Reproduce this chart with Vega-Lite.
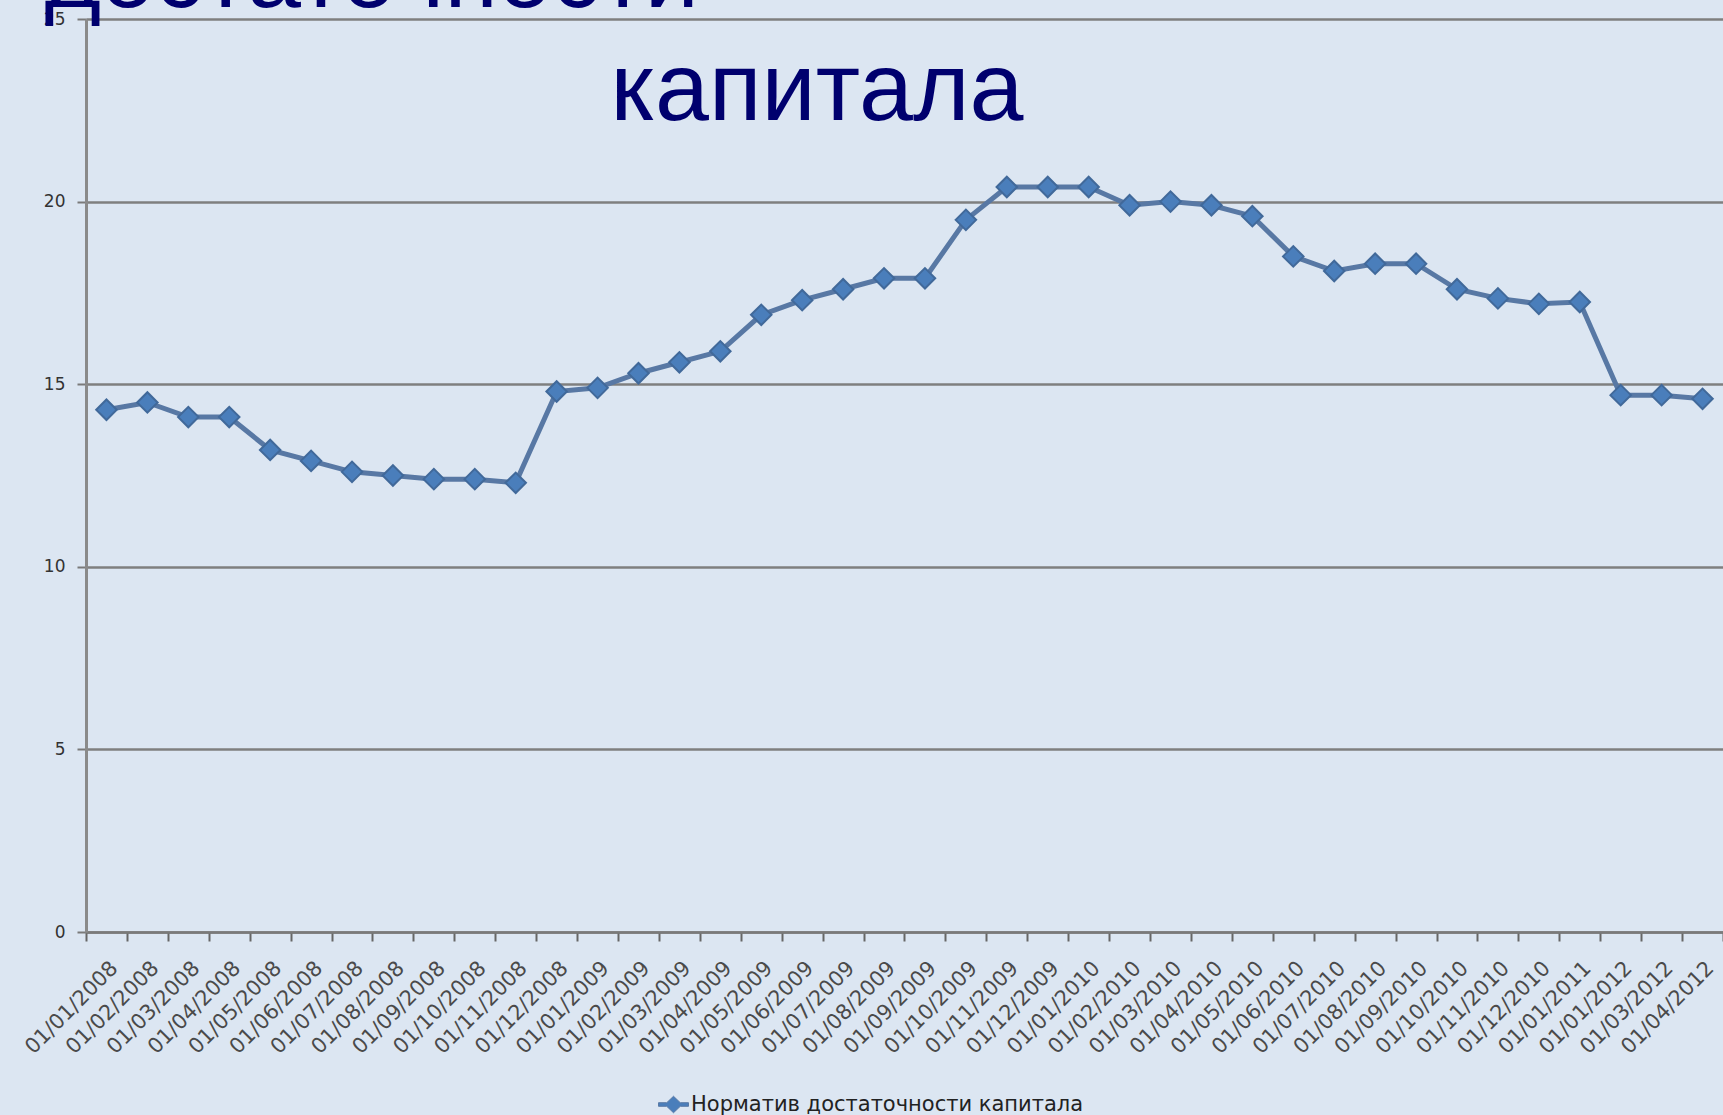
{
  "$schema": "https://vega.github.io/schema/vega-lite/v6.json",
  "autosize": "none",
  "width": 1637,
  "height": 913,
  "padding": {"left": 86, "top": 19, "right": 0, "bottom": 183},
  "background": "#dce6f2",
  "config": {
    "view": {"stroke": null},
    "axis": {"labelFont": "DejaVu Sans", "labelColor": "#4a4a4a"}
  },
  "data": {
    "values": [
      {"date": "01/01/2008", "value": 14.3, "series": "Норматив достаточности капитала"},
      {"date": "01/02/2008", "value": 14.5, "series": "Норматив достаточности капитала"},
      {"date": "01/03/2008", "value": 14.1, "series": "Норматив достаточности капитала"},
      {"date": "01/04/2008", "value": 14.1, "series": "Норматив достаточности капитала"},
      {"date": "01/05/2008", "value": 13.2, "series": "Норматив достаточности капитала"},
      {"date": "01/06/2008", "value": 12.9, "series": "Норматив достаточности капитала"},
      {"date": "01/07/2008", "value": 12.6, "series": "Норматив достаточности капитала"},
      {"date": "01/08/2008", "value": 12.5, "series": "Норматив достаточности капитала"},
      {"date": "01/09/2008", "value": 12.4, "series": "Норматив достаточности капитала"},
      {"date": "01/10/2008", "value": 12.4, "series": "Норматив достаточности капитала"},
      {"date": "01/11/2008", "value": 12.3, "series": "Норматив достаточности капитала"},
      {"date": "01/12/2008", "value": 14.8, "series": "Норматив достаточности капитала"},
      {"date": "01/01/2009", "value": 14.9, "series": "Норматив достаточности капитала"},
      {"date": "01/02/2009", "value": 15.3, "series": "Норматив достаточности капитала"},
      {"date": "01/03/2009", "value": 15.6, "series": "Норматив достаточности капитала"},
      {"date": "01/04/2009", "value": 15.9, "series": "Норматив достаточности капитала"},
      {"date": "01/05/2009", "value": 16.9, "series": "Норматив достаточности капитала"},
      {"date": "01/06/2009", "value": 17.3, "series": "Норматив достаточности капитала"},
      {"date": "01/07/2009", "value": 17.6, "series": "Норматив достаточности капитала"},
      {"date": "01/08/2009", "value": 17.9, "series": "Норматив достаточности капитала"},
      {"date": "01/09/2009", "value": 17.9, "series": "Норматив достаточности капитала"},
      {"date": "01/10/2009", "value": 19.5, "series": "Норматив достаточности капитала"},
      {"date": "01/11/2009", "value": 20.4, "series": "Норматив достаточности капитала"},
      {"date": "01/12/2009", "value": 20.4, "series": "Норматив достаточности капитала"},
      {"date": "01/01/2010", "value": 20.4, "series": "Норматив достаточности капитала"},
      {"date": "01/02/2010", "value": 19.9, "series": "Норматив достаточности капитала"},
      {"date": "01/03/2010", "value": 20.0, "series": "Норматив достаточности капитала"},
      {"date": "01/04/2010", "value": 19.9, "series": "Норматив достаточности капитала"},
      {"date": "01/05/2010", "value": 19.6, "series": "Норматив достаточности капитала"},
      {"date": "01/06/2010", "value": 18.5, "series": "Норматив достаточности капитала"},
      {"date": "01/07/2010", "value": 18.1, "series": "Норматив достаточности капитала"},
      {"date": "01/08/2010", "value": 18.3, "series": "Норматив достаточности капитала"},
      {"date": "01/09/2010", "value": 18.3, "series": "Норматив достаточности капитала"},
      {"date": "01/10/2010", "value": 17.6, "series": "Норматив достаточности капитала"},
      {"date": "01/11/2010", "value": 17.35, "series": "Норматив достаточности капитала"},
      {"date": "01/12/2010", "value": 17.2, "series": "Норматив достаточности капитала"},
      {"date": "01/01/2011", "value": 17.25, "series": "Норматив достаточности капитала"},
      {"date": "01/01/2012", "value": 14.7, "series": "Норматив достаточности капитала"},
      {"date": "01/03/2012", "value": 14.7, "series": "Норматив достаточности капитала"},
      {"date": "01/04/2012", "value": 14.6, "series": "Норматив достаточности капитала"}
    ]
  },
  "encoding": {
    "x": {
      "field": "date",
      "type": "ordinal",
      "sort": null,
      "scale": {"type": "band", "paddingInner": 0, "paddingOuter": 0},
      "axis": {
        "title": "капитала",
        "titleFont": "Liberation Sans",
        "titleFontSize": 97,
        "titleFontWeight": "normal",
        "titleColor": "#00006e",
        "titleAngle": 0,
        "titleAlign": "left",
        "titleBaseline": "alphabetic",
        "titleX": 524,
        "titleY": -813,
        "labelAngle": -45,
        "labelFontSize": 21,
        "labelPadding": 16,
        "labelLimit": 0,
        "tickBand": "extent",
        "tickSize": 9,
        "tickWidth": 2,
        "tickColor": "#666666",
        "domainColor": "#7a7a7a",
        "domainWidth": 2.5,
        "grid": false
      }
    },
    "y": {
      "field": "value",
      "type": "quantitative",
      "scale": {"domain": [0, 25], "nice": false},
      "axis": {
        "values": [0, 5, 10, 15, 20, 25],
        "title": "достаточности",
        "titleFont": "Liberation Sans",
        "titleFontSize": 97,
        "titleFontWeight": "normal",
        "titleColor": "#00006e",
        "titleAngle": 0,
        "titleAlign": "left",
        "titleBaseline": "alphabetic",
        "titleX": -42,
        "titleY": -13,
        "labelFontSize": 17,
        "labelColor": "#333333",
        "labelPadding": 12,
        "tickSize": 9,
        "tickWidth": 2,
        "tickColor": "#7a7a7a",
        "domainColor": "#8a8a8a",
        "domainWidth": 3,
        "grid": true,
        "gridColor": "#7f7f7f",
        "gridWidth": 2.5
      }
    }
  },
  "layer": [
    {
      "mark": {"type": "line", "color": "#5878a4", "strokeWidth": 5}
    },
    {
      "mark": {"type": "point", "shape": "diamond", "filled": true, "size": 420, "stroke": "#41699a", "strokeWidth": 2, "opacity": 1},
      "encoding": {
        "color": {
          "field": "series",
          "type": "nominal",
          "scale": {"range": ["#4a7ebb"]},
          "legend": {
            "title": null,
            "orient": "none",
            "legendX": 572,
            "legendY": 1070,
            "symbolType": "M-1,-0.12L-0.45,-0.12L0,-0.55L0.45,-0.12L1,-0.12L1,0.12L0.45,0.12L0,0.55L-0.45,0.12L-1,0.12Z",
            "symbolSize": 900,
            "symbolStrokeColor": "#5a7aa6",
            "symbolStrokeWidth": 1,
            "labelFont": "DejaVu Sans",
            "labelFontSize": 21,
            "labelColor": "#222222",
            "labelLimit": 0,
            "labelOffset": 2
          }
        }
      }
    }
  ]
}
